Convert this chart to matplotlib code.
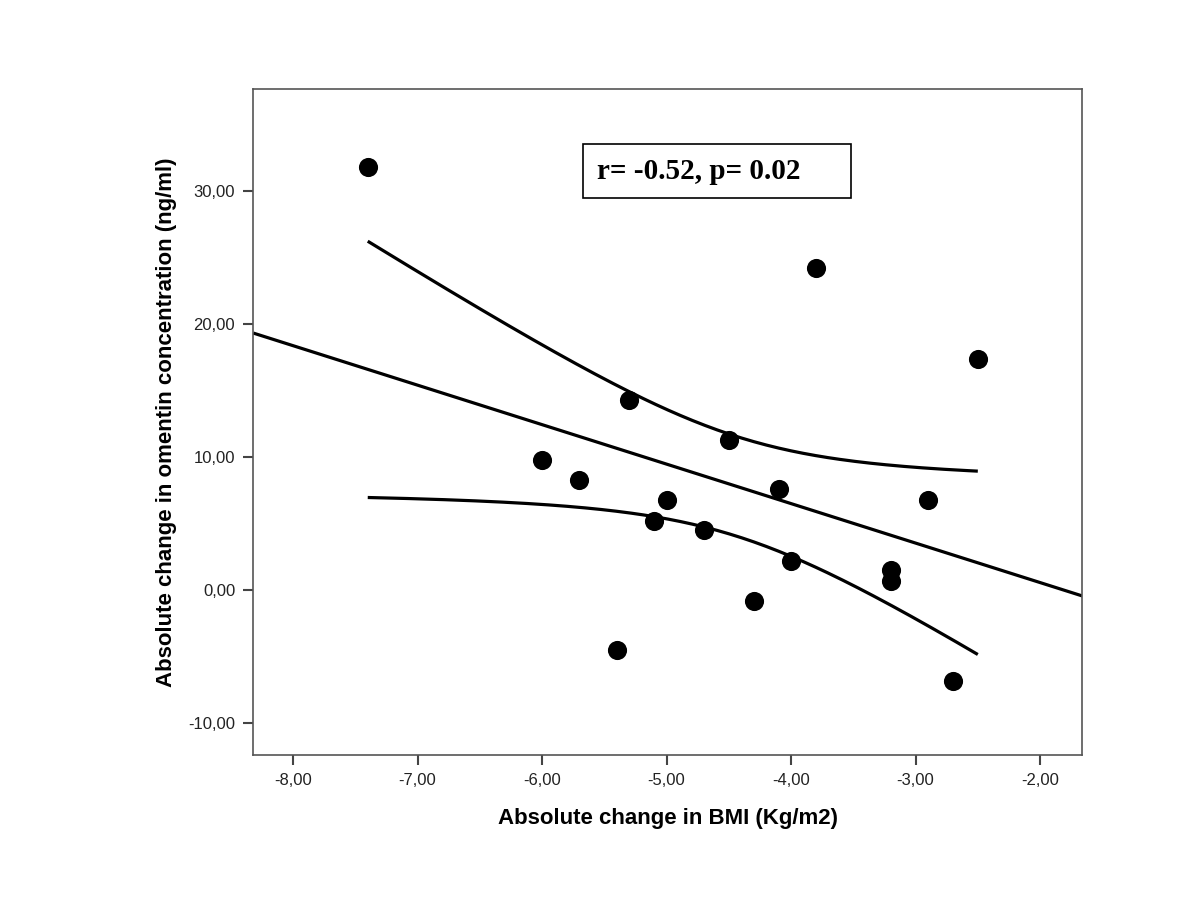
import numpy as np
import matplotlib
matplotlib.use('Agg')
import matplotlib.pyplot as plt
from matplotlib.patches import Rectangle
from matplotlib.ticker import FuncFormatter

# change in BMI (x) vs change in omentin (y)
bmi_change = [-7.4, -3.8, -2.5, -5.3, -4.5, -6.0, -5.7, -5.0, -4.1, -2.9,
              -5.1, -4.7, -4.0, -3.2, -3.2, -4.3, -5.4, -2.7]
omentin_change = [31.8, 24.2, 17.4, 14.3, 11.3, 9.8, 8.3, 6.8, 7.6, 6.8,
                  5.2, 4.5, 2.2, 1.5, 0.7, -0.8, -4.5, -6.8]
annot_text = 'r= -0.52, p= 0.02'
x_ticks = [-8, -7, -6, -5, -4, -3, -2]
y_ticks = [-10, 0, 10, 20, 30]

x = np.array(bmi_change)
y = np.array(omentin_change)
n = len(x)

# linear fit + confidence band of the mean
b, a = np.polyfit(x, y, 1)
resid = y - (a + b*x)
s = np.sqrt(np.sum(resid**2)/(n-2))
t_crit = 1.746  # df=16, 90%
xm = x.mean()
sxx = np.sum((x-xm)**2)

fig = plt.figure(figsize=(12, 9), dpi=100)
ax = fig.add_axes([0.211, 0.161, 0.691, 0.740])

xlim = (-8.32, -1.66)
ylim = (-12.4, 37.67)
xl = np.linspace(xlim[0], xlim[1], 100)
ax.plot(xl, a + b*xl, color='black', lw=2.3, solid_capstyle='butt')

xc = np.linspace(x.min(), x.max(), 200)
se = s*np.sqrt(1/n + (xc-xm)**2/sxx)
ax.plot(xc, a + b*xc + t_crit*se, color='black', lw=2.3, solid_capstyle='butt')
ax.plot(xc, a + b*xc - t_crit*se, color='black', lw=2.3, solid_capstyle='butt')

ax.scatter(x, y, s=190, color='black', zorder=3, linewidths=0)

ax.set_xlim(xlim)
ax.set_ylim(ylim)
ax.set_xticks(x_ticks)
ax.set_yticks(y_ticks)
fmt = FuncFormatter(lambda v, p: ('%.2f' % v).replace('.', ','))
ax.xaxis.set_major_formatter(fmt)
ax.yaxis.set_major_formatter(fmt)
ax.tick_params(direction='out', length=7, width=1.5, color='#444444',
               labelsize=12, labelcolor='#222222', pad=6)
for lab in ax.get_xticklabels() + ax.get_yticklabels():
    lab.set_family('Liberation Sans')
for sp in ax.spines.values():
    sp.set_color('#555555')
    sp.set_linewidth(1.2)

ax.set_xlabel('Absolute change in BMI (Kg/m2)', fontsize=16, fontweight='bold',
              family='Liberation Sans', labelpad=14)
ax.set_ylabel('Absolute change in omentin concentration (ng/ml)', fontsize=16,
              fontweight='bold', family='Liberation Sans', labelpad=8)

# annotation box
ax.add_patch(Rectangle((0.398, 0.836), 0.323, 0.081, transform=ax.transAxes,
                       facecolor='white', edgecolor='black', lw=1.2, zorder=4))
ax.text(0.415, 0.877, annot_text, transform=ax.transAxes, fontsize=21,
        fontweight='bold', family='Liberation Serif', va='center', ha='left',
        zorder=5)

fig.savefig('out.png', dpi=100)
